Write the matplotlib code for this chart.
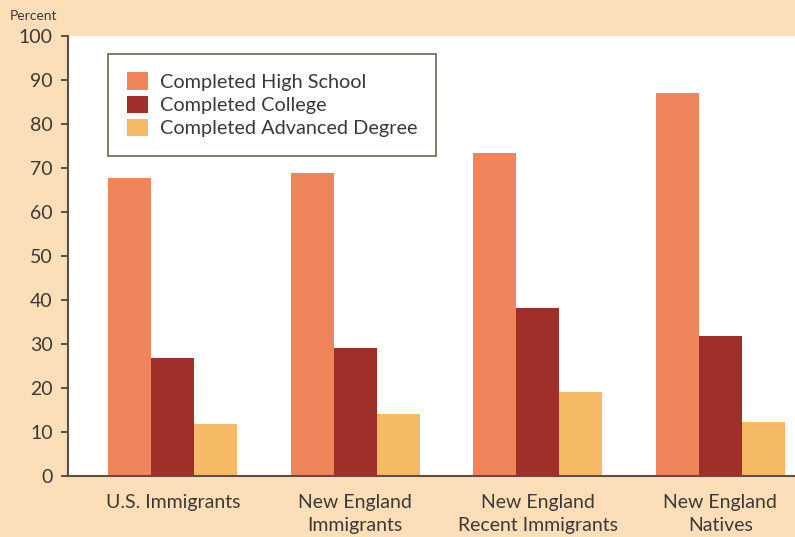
import numpy as np
import matplotlib.pyplot as plt

# Bildungsabschluss nach Gruppe (Prozent)
groups = ['U.S. Immigrants', 'New England\nImmigrants',
          'New England\nRecent Immigrants', 'New England\nNatives']
high_school = [67.8, 68.9, 73.5, 87.0]
college = [26.9, 29.0, 38.2, 31.9]
advanced = [11.9, 14.2, 19.2, 12.3]
series_names = ['Completed High School', 'Completed College',
                'Completed Advanced Degree']

colors = ['#F0845A', '#A02E29', '#F6B964']
bg = '#FCDFB9'
dark = '#3c3835'

plt.rcParams['font.family'] = ['Lato', 'DejaVu Sans']

fig = plt.figure(figsize=(7.95, 5.37), dpi=100, facecolor=bg)
ax = fig.add_axes([0.0855, 0.1136, 0.9145, 0.8194])
ax.set_facecolor('white')

x = np.arange(len(groups))
w = 0.236
for i, (vals, name) in enumerate(zip([high_school, college, advanced], series_names)):
    ax.bar(x + (i - 1) * w, vals, width=w, color=colors[i], label=name)

ax.set_xlim(-0.575, 3.41)
ax.set_ylim(0, 100)
ax.set_yticks(range(0, 101, 10))
ax.set_xticks(x)
ax.set_xticklabels(groups, fontsize=14, color=dark, linespacing=1.45)
ax.tick_params(axis='x', length=0, pad=13)
ax.tick_params(axis='y', labelsize=14, colors=dark, length=5, width=1.2, pad=6)

for s in ['top', 'right']:
    ax.spines[s].set_visible(False)
for s in ['left', 'bottom']:
    ax.spines[s].set_color('#5a5048')
    ax.spines[s].set_linewidth(1.5)

fig.text(0.012, 0.962, 'Percent', fontsize=10, color=dark)

leg = ax.legend(loc='upper left', bbox_to_anchor=(0.055, 0.96), fontsize=14.3,
                frameon=True, fancybox=False, handlelength=1.05, handleheight=1.0,
                handletextpad=0.6, labelspacing=0.22, borderpad=0.95,
                borderaxespad=0)
leg.get_frame().set_edgecolor('#5a4a3a')
leg.get_frame().set_linewidth(1.3)
for t in leg.get_texts():
    t.set_color(dark)

fig.savefig('out.png', facecolor=bg)
